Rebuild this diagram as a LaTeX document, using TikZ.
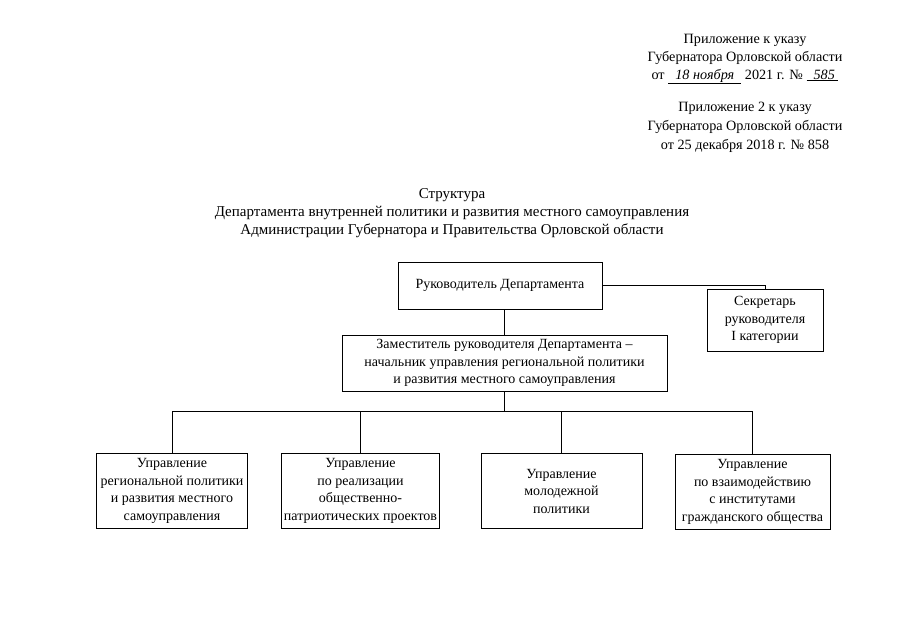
\documentclass[tikz,border=0pt]{standalone}
\usepackage{fontspec}
\setmainfont{Liberation Serif}
\usetikzlibrary{positioning, calc}

\begin{document}
\begin{tikzpicture}[x=1pt, y=-1pt,
    every node/.style={font=\fontsize{14}{17.5}\selectfont, align=center},
    unit/.style={draw, line width=1pt, inner sep=2pt},
    link/.style={line width=0.8pt}]
  \useasboundingbox (0,0) rectangle (899,640);

  % header
  \node[font=\fontsize{14.2}{18}\selectfont] (hdrA) at (745,59)
    {Приложение к указу\\Губернатора Орловской области\\
     от \underline{\itshape\ \ 18 ноября\ \ } 2021 г. № \underline{\itshape\ \ 585\ }};
  \node[font=\fontsize{14.2}{19}\selectfont] (hdrB) at (745,127)
    {Приложение 2 к указу\\Губернатора Орловской области\\от 25 декабря 2018 г. № 858};
  \node[font=\fontsize{15}{18}\selectfont] (title) at (452,213)
    {Структура\\Департамента внутренней политики и развития местного самоуправления\\
     Администрации Губернатора и Правительства Орловской области};

  % boxes
  \node[unit, minimum width=204pt, minimum height=47pt] (head) at (500,285.5)
    {Руководитель Департамента};
  \node[unit, minimum width=116pt, minimum height=62pt] (secr) at (765,320)
    {Секретарь\\руководителя\\I категории};
  \node[unit, minimum width=325pt, minimum height=56pt] (depu) at (504.5,363)
    {Заместитель руководителя Департамента –\\начальник управления региональной политики\\и развития местного самоуправления};

  \node[unit, minimum width=151pt, minimum height=75pt] (upr1) at (172,491)
    {Управление\\региональной политики\\и развития местного\\самоуправления};
  \node[unit, minimum width=155pt, minimum height=75pt] (upr2) at (360.5,491)
    {Управление\\по реализации\\общественно-\\патриотических проектов};
  \node[unit, minimum width=161pt, minimum height=75pt] (upr3) at (561.5,491)
    {Управление\\молодежной\\политики};
  \node[unit, minimum width=155pt, minimum height=75pt] (upr4) at (752.5,492)
    {Управление\\по взаимодействию\\с институтами\\гражданского общества};

  % links
  \coordinate (bus) at (0,411);
  \draw[link] (depu.north) -- (depu.north |- head.south);
  \draw[link] (head.east) -| (secr.north);
  \draw[link] (upr1.north) -- (upr1.north |- bus) -- (upr4.north |- bus) -- (upr4.north);
  \foreach \n in {upr2, upr3}
    \draw[link] (\n.north) -- (\n.north |- bus);
  \draw[link] (depu.south) -- (depu.south |- bus);
\end{tikzpicture}
\end{document}
